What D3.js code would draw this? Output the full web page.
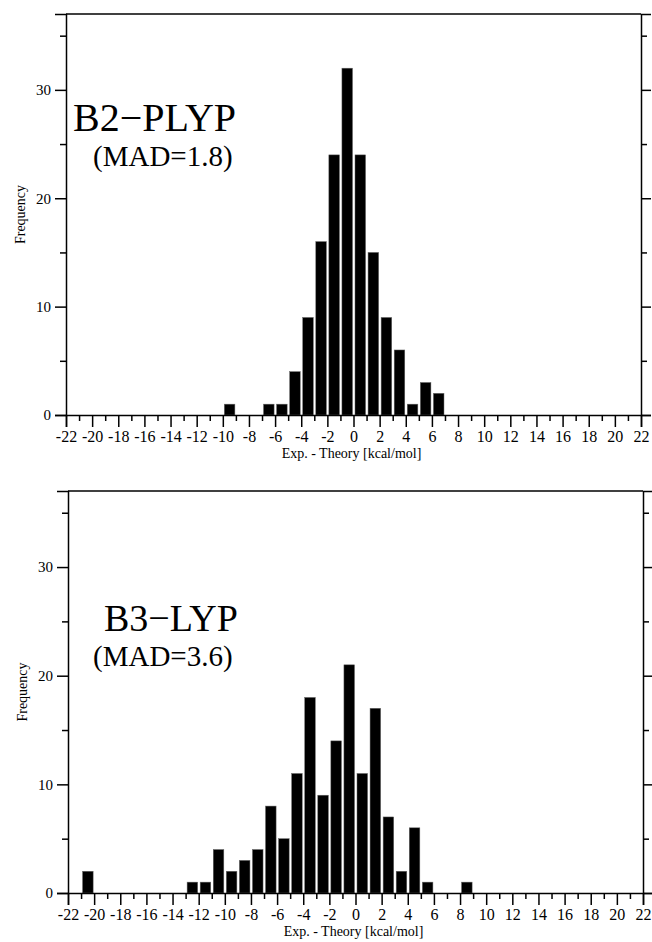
<!DOCTYPE html>
<html>
<head>
<meta charset="utf-8">
<script src="https://cdn.jsdelivr.net/npm/d3@7"></script>
<style>
  html, body { margin: 0; padding: 0; background: #fff; }
  svg text { font-family: "Liberation Serif", "Times New Roman", serif !important; fill: #000; }
</style>
</head>
<body>
<svg id="chart" width="652" height="942"></svg>
<script>
// histogram bins (left edge of each 1 kcal/mol bin) and counts
const b2plypBins   = [-10, -7, -6, -5, -4, -3, -2, -1, 0, 1, 2, 3, 4, 5, 6];
const b2plypCounts = [1, 1, 1, 4, 9, 16, 24, 32, 24, 15, 9, 6, 1, 3, 2];

const b3lypBins   = [-21, -13, -12, -11, -10, -9, -8, -7, -6, -5, -4, -3, -2, -1, 0, 1, 2, 3, 4, 5, 8];
const b3lypCounts = [2, 1, 1, 4, 2, 3, 4, 8, 5, 11, 18, 9, 14, 21, 11, 17, 7, 2, 6, 1, 1];

const xMajorTicks = [-22, -20, -18, -16, -14, -12, -10, -8, -6, -4, -2, 0, 2, 4, 6, 8, 10, 12, 14, 16, 18, 20, 22];
const xMinorTicks = [-21, -19, -17, -15, -13, -11, -9, -7, -5, -3, -1, 1, 3, 5, 7, 9, 11, 13, 15, 17, 19, 21];
const yMajorTicks = [0, 10, 20, 30];
const yMinorTicks = [5, 15, 25, 35];

const FONT = "Liberation Serif, Times New Roman, serif";
const svg = d3.select("#chart");

function drawPanel(p) {
  const x = d3.scaleLinear().domain([-22, 22]).range([p.left, p.right]);
  const y = d3.scaleLinear().domain([0, 37]).range([p.bottom, p.top]);
  const g = svg.append("g");

  const data = p.bins.map((b, i) => ({ bin: b, count: p.counts[i] }));

  // bars
  g.selectAll("rect.bar")
    .data(data)
    .enter()
    .append("rect")
    .attr("class", "bar")
    .attr("x", d => x(d.bin) + 1.5)
    .attr("width", d => x(d.bin + 1) - x(d.bin) - 2.5)
    .attr("y", d => y(d.count))
    .attr("height", d => y(0) - y(d.count))
    .attr("fill", "#000")
    .attr("stroke", "#666")
    .attr("stroke-width", 0.5);

  // frame top line
  g.append("line")
    .attr("x1", p.left).attr("x2", p.right)
    .attr("y1", p.top).attr("y2", p.top)
    .attr("stroke", "#000").attr("stroke-width", 1.6);

  // left axis, major + minor
  const yl = g.append("g").attr("transform", `translate(${p.left},0)`)
    .call(d3.axisLeft(y).tickValues(yMajorTicks).tickSize(11).tickFormat(d3.format("d")));
  g.append("g").attr("transform", `translate(${p.left},0)`)
    .call(d3.axisLeft(y).tickValues(yMinorTicks).tickSize(6).tickFormat(""))
    .select(".domain").remove();

  // right axis, ticks only
  g.append("g").attr("transform", `translate(${p.right},0)`)
    .call(d3.axisRight(y).tickValues(yMajorTicks).tickSize(10).tickFormat(""));
  g.append("g").attr("transform", `translate(${p.right},0)`)
    .call(d3.axisRight(y).tickValues(yMinorTicks).tickSize(6).tickFormat(""))
    .select(".domain").remove();

  // bottom axis
  const xb = g.append("g").attr("transform", `translate(0,${p.bottom})`)
    .call(d3.axisBottom(x).tickValues(xMajorTicks).tickSize(12).tickPadding(4).tickFormat(d => d < 0 ? "-" + (-d) : d));
  g.append("g").attr("transform", `translate(0,${p.bottom})`)
    .call(d3.axisBottom(x).tickValues(xMinorTicks).tickSize(6).tickFormat(""))
    .select(".domain").remove();

  g.selectAll("g").attr("font-family", FONT);
  g.selectAll(".domain").attr("stroke", "#000").attr("stroke-width", 1.5);
  g.selectAll(".tick line").attr("stroke", "#000").attr("stroke-width", 1.5);
  yl.selectAll(".tick text").attr("font-size", 15).attr("dx", -1);
  xb.selectAll(".tick text").attr("font-size", 16);

  // axis titles
  g.append("text")
    .attr("x", (p.left + p.right) / 2 - 2)
    .attr("y", p.bottom + 43)
    .attr("text-anchor", "middle")
    .attr("font-family", FONT)
    .attr("font-size", 14)
    .text("Exp. - Theory [kcal/mol]");
  g.append("text")
    .attr("transform", `translate(${p.left - 41},${(p.top + p.bottom) / 2}) rotate(-90)`)
    .attr("text-anchor", "middle")
    .attr("font-family", FONT)
    .attr("font-size", 14)
    .text("Frequency");

  // method label
  g.append("text")
    .attr("x", p.nameX).attr("y", p.nameY)
    .attr("font-family", FONT)
    .attr("font-size", p.nameSize)
    .text(p.name);
  g.append("text")
    .attr("x", p.madX).attr("y", p.madY)
    .attr("font-family", FONT)
    .attr("font-size", 29)
    .text(p.mad);
}

drawPanel({
  left: 66, right: 641, top: 14, bottom: 415,
  bins: b2plypBins, counts: b2plypCounts,
  name: "B2\u2212PLYP", nameX: 73, nameY: 131, nameSize: 40,
  mad: "(MAD=1.8)", madX: 93, madY: 166
});

drawPanel({
  left: 68, right: 643, top: 491, bottom: 893,
  bins: b3lypBins, counts: b3lypCounts,
  name: "B3\u2212LYP", nameX: 104, nameY: 631, nameSize: 38,
  mad: "(MAD=3.6)", madX: 93, madY: 666
});
</script>
</body>
</html>
